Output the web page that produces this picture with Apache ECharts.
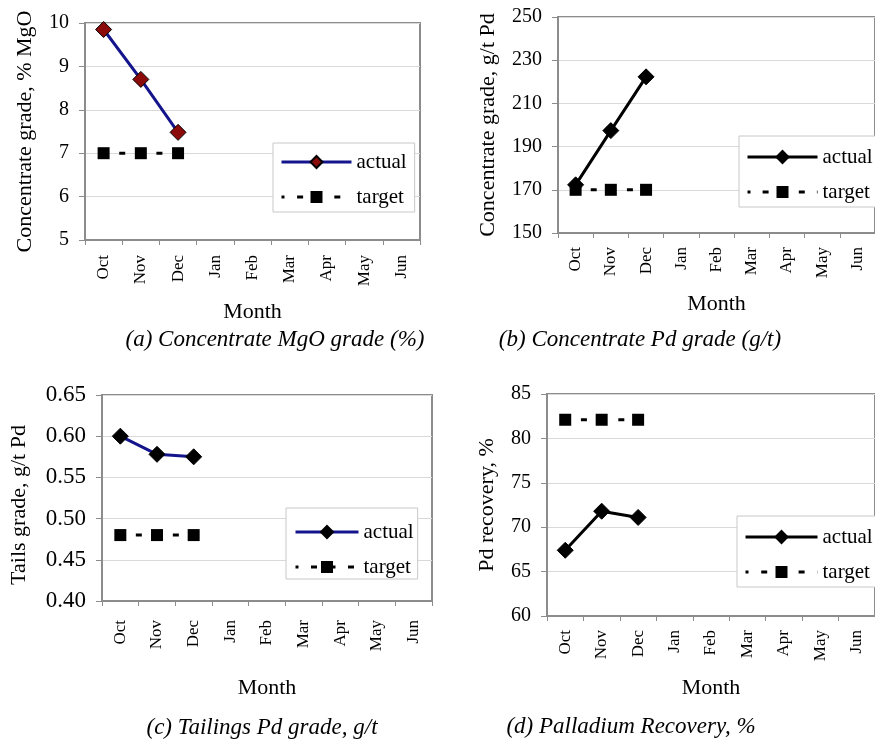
<!DOCTYPE html>
<html>
<head>
<meta charset="utf-8">
<script src="https://cdn.jsdelivr.net/npm/echarts@6/dist/echarts.min.js"></script>
<style>
body { margin: 0; background: #fff; }
#wrap { position: relative; width: 875px; height: 740px; overflow: hidden; background: #fff; }
.panel { position: absolute; }
</style>
</head>
<body>
<div id="wrap">
  <div id="pa" class="panel" style="left:0;top:0;width:440px;height:370px"></div>
  <div id="pb" class="panel" style="left:440px;top:0;width:435px;height:370px"></div>
  <div id="pc" class="panel" style="left:0;top:370px;width:440px;height:370px"></div>
  <div id="pd" class="panel" style="left:440px;top:370px;width:435px;height:370px"></div>
</div>
<script>
// months on every x axis
var months = ["Oct", "Nov", "Dec", "Jan", "Feb", "Mar", "Apr", "May", "Jun"];

// (a) concentrate MgO grade, %
var mgoActual = [9.85, 8.7, 7.48];
var mgoTarget = [7, 7, 7];
var mgoAxis = [5, 10, 1]; // min, max, step

// (b) concentrate Pd grade, g/t
var pdConcActual = [172.3, 197.4, 222.3];
var pdConcTarget = [170, 170, 170];
var pdConcAxis = [150, 250, 20];

// (c) tailings Pd grade, g/t
var tailsActual = [0.600, 0.578, 0.575];
var tailsTarget = [0.48, 0.48, 0.48];
var tailsAxis = [0.40, 0.65, 0.05];

// (d) Pd recovery, %
var recActual = [67.4, 71.8, 71.1];
var recTarget = [82.1, 82.1, 82.1];
var recAxis = [60, 85, 5];

var FONT = "'Liberation Serif', 'Times New Roman', serif";
var GREY = "#8c8c8c";

function drawPanel(id, p) {
  var chart = echarts.init(document.getElementById(id));
  var option = {
    animation: false,
    textStyle: { fontFamily: FONT, color: "#000" },
    grid: {
      left: p.grid[0], top: p.grid[1], width: p.grid[2], height: p.grid[3],
      show: true, borderColor: GREY, borderWidth: 2, backgroundColor: "#fff"
    },
    legend: {
      orient: "vertical",
      left: p.legend[0],
      top: p.legend[1],
      padding: p.legendPad,
      itemWidth: p.legendW,
      itemHeight: 15,
      itemGap: 13,
      selectedMode: false,
      backgroundColor: "#fff",
      borderColor: "#c8c8c8",
      borderWidth: 1,
      lineStyle: { width: 3 },
      textStyle: { fontSize: 21, lineHeight: 22, fontFamily: FONT, color: "#000" },
      data: ["actual", "target"]
    },
    xAxis: {
      type: "category",
      data: months,
      boundaryGap: true,
      name: "Month",
      nameLocation: "middle",
      nameGap: p.monthGap,
      nameTextStyle: { fontSize: 22, fontFamily: FONT, color: "#000" },
      axisLine: { lineStyle: { color: GREY, width: 2 } },
      axisTick: { show: true, length: 5, interval: 0, lineStyle: { color: GREY, width: 1 } },
      axisLabel: { interval: 0, rotate: 90, margin: p.xMargin, fontSize: 17, fontFamily: FONT, color: "#000" },
      splitLine: { show: false }
    },
    yAxis: {
      type: "value",
      min: p.axis[0],
      max: p.axis[1],
      interval: p.axis[2],
      name: p.yName,
      nameLocation: "middle",
      nameRotate: 90,
      nameGap: p.yGap,
      nameTextStyle: { fontSize: 22, fontFamily: FONT, color: "#000", padding: p.yNamePad },
      axisLine: { show: true, lineStyle: { color: GREY, width: 2 } },
      axisTick: { show: true, length: 6, lineStyle: { color: GREY, width: 1 } },
      axisLabel: {
        margin: 16, fontSize: p.tickSize, fontFamily: FONT, color: "#000",
        formatter: p.fmt
      },
      splitLine: { show: true, lineStyle: { color: "#d9d9d9", width: 1 } }
    },
    series: [
      {
        type: "line",
        name: "actual",
        data: p.actual,
        symbol: "diamond",
        symbolSize: 16,
        z: 3,
        lineStyle: { color: p.lineColor, width: 3 },
        itemStyle: { color: p.markerColor, borderColor: "#000", borderWidth: 1 }
      },
      {
        type: "line",
        name: "target",
        data: p.target,
        symbol: "rect",
        symbolSize: 12,
        z: 2,
        lineStyle: { color: "#000", width: 3, type: [6, p.dashGap], dashOffset: 3 },
        itemStyle: { color: "#000" }
      }
    ],
    graphic: [
      {
        type: "text",
        x: p.caption[0],
        y: p.caption[1],
        style: {
          text: p.captionText,
          fontSize: 23, fontStyle: "italic", fontFamily: FONT,
          fill: "#000", align: "center", verticalAlign: "middle"
        }
      }
    ]
  };
  chart.setOption(option);
  return chart;
}

drawPanel("pa", {
  grid: [85, 23, 335, 217], axis: mgoAxis, actual: mgoActual, target: mgoTarget,
  yName: "Concentrate grade, % MgO", yGap: 49, yNamePad: 0, tickSize: 20, fmt: "{value}",
  monthGap: 61, xMargin: 15, lineColor: "#14148c", markerColor: "#8b0a0a",
  dashGap: 12.6, legend: [273, 143], legendPad: [8, 8, 4, 7], legendW: 70,
  caption: [275, 340], captionText: "(a) Concentrate MgO grade (%)"
});

drawPanel("pb", {
  grid: [118, 17, 326, 216], axis: pdConcAxis, actual: pdConcActual, target: pdConcTarget,
  yName: "Concentrate grade, g/t Pd", yGap: 59, yNamePad: 0, tickSize: 20, fmt: "{value}",
  monthGap: 60, xMargin: 14, lineColor: "#000", markerColor: "#000",
  dashGap: 12.1, legend: [299, 136], legendPad: [10, 8, 4, 7], legendW: 70,
  caption: [200, 340], captionText: "(b) Concentrate Pd grade (g/t)"
});

drawPanel("pc", {
  grid: [98, 25, 334, 206], axis: tailsAxis, actual: tailsActual, target: tailsTarget,
  yName: "Tails grade, g/t Pd", yGap: 72, yNamePad: [0, 14, 0, 0], tickSize: 23,
  fmt: function (v) { return v.toFixed(2); },
  monthGap: 76, xMargin: 19, lineColor: "#14148c", markerColor: "#000",
  dashGap: 12.5, legend: [286, 138], legendPad: [13, 4, 1, 8], legendW: 63,
  caption: [262, 358], captionText: "(c) Tailings Pd grade, g/t"
});

drawPanel("pd", {
  grid: [107, 24, 336, 222], axis: recAxis, actual: recActual, target: recTarget,
  yName: "Pd recovery, %", yGap: 49, yNamePad: 0, tickSize: 20, fmt: "{value}",
  monthGap: 61, xMargin: 14, lineColor: "#000", markerColor: "#000",
  dashGap: 12.7, legend: [297, 146], legendPad: [10, 8, 4, 7], legendW: 72,
  caption: [191, 357], captionText: "(d) Palladium Recovery, %"
});
</script>
</body>
</html>
